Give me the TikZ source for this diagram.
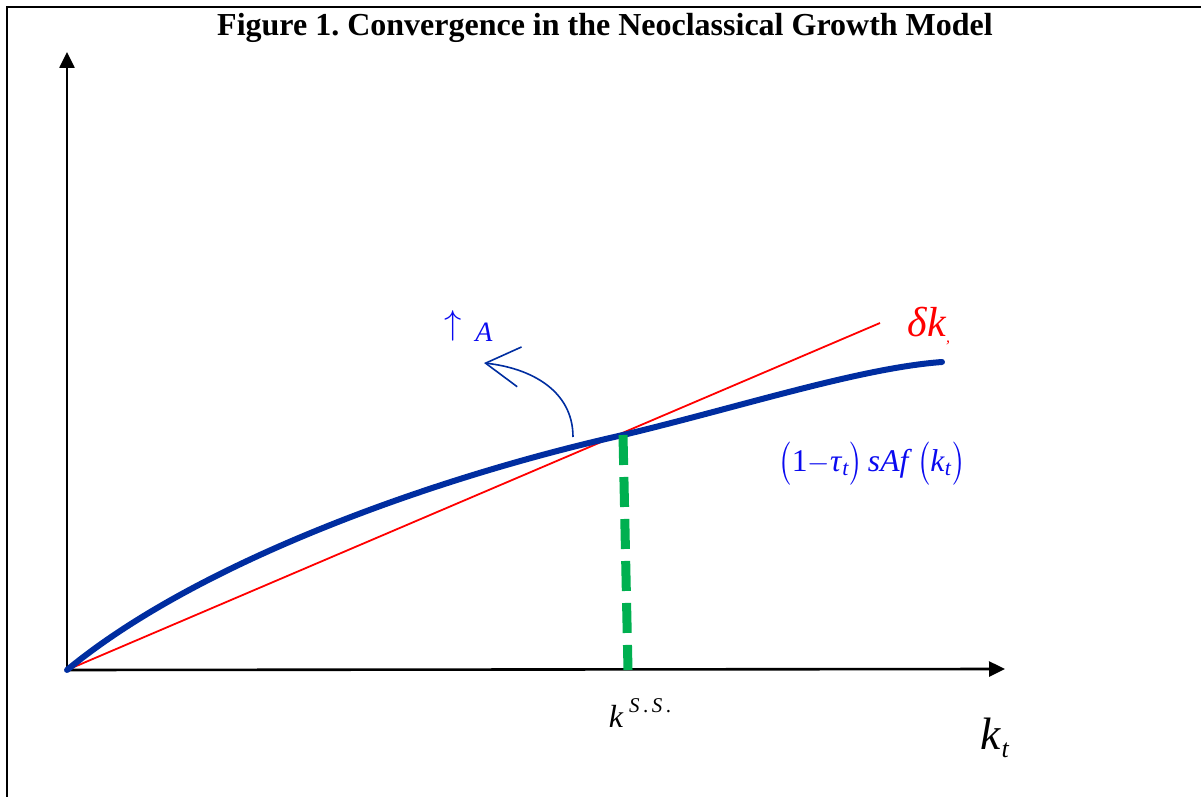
\documentclass[tikz,border=0pt]{standalone}
\usepackage{amsmath}
\usepackage{graphicx}
\usepackage{fontspec}
\setmainfont{Liberation Serif}
\usetikzlibrary{arrows.meta}
\definecolor{curveblue}{RGB}{0,45,160}
\definecolor{labelblue}{RGB}{10,10,240}
\definecolor{ssgreen}{RGB}{0,176,80}
\definecolor{linered}{RGB}{255,0,0}
\newcommand{\fsz}[1]{\fontsize{#1}{#1}\selectfont}
\newcommand{\tallL}{\raisebox{-0.12ex}{\scalebox{1}[1.25]{$\bigl($}}}
\newcommand{\tallR}{\raisebox{-0.12ex}{\scalebox{1}[1.25]{$\bigr)$}}}
\frenchspacing
\begin{document}
\begin{tikzpicture}[x=0.5pt,y=-0.5pt,
  frame/.style={line width=1.1pt,black},
  axis/.style={line width=1.3pt,black,-{Triangle[length=8pt,width=7.5pt]}},
  prodcurve/.style={line width=3pt,curveblue,line cap=round},
  deprline/.style={line width=0.9pt,linered},
  ssline/.style={line width=4.5pt,ssgreen,dash pattern=on 15pt off 6pt},
  shiftarrow/.style={line width=0.8pt,curveblue,-{Straight Barb[length=17pt,width=20pt,line width=0.8pt]}},
  lbl/.style={inner sep=0pt,outer sep=0pt}]
\useasboundingbox (0,0) rectangle (1201,797);
\draw[frame] (7,797) -- (7,7) -- (1201,7);

\node[lbl] (title) at (605,28) {\fsz{16}\bfseries Figure 1. Convergence in the Neoclassical Growth Model};

\coordinate (O) at (67,670);
\coordinate (ytop) at (67,52);
\coordinate (xend) at (1005,669);
\draw[axis] (O) -- (ytop);
\draw[axis] (O) -- (xend);

\coordinate (S) at (623,435);
\coordinate (Sfoot) at (628,670);
\coordinate (Rend) at (880,323);
\coordinate (Cend) at (942,362);

\draw[deprline] (O) -- (Rend);
\draw[prodcurve] (O) .. controls (200,560) and (440,476) .. (S)
  .. controls (740,407) and (860,368) .. (Cend);
\draw[ssline] (S) -- (Sfoot);

\coordinate (Astart) at (573,437);
\coordinate (Atip) at (484,363);
\draw[shiftarrow] (Astart) .. controls (573,390) and (530,368) .. (Atip);

\node[lbl,text=labelblue] (up) at (453,326) {\fsz{19}$\uparrow$};
\node[lbl,text=labelblue] (Alab) at (484,332) {\fsz{14}\itshape A};

\node[lbl,text=linered] (dk) at (929,326) {\fsz{21}\itshape δk\raisebox{-0.3ex}{\fsz{8},}};

\node[lbl,text=labelblue] (flab) at (872,464) {\fsz{15.8}\tallL 1$-$\textit{τ}$_{\text{\itshape t}}$\tallR\,\textit{sAf}\,\tallL\textit{k}$_{\text{\itshape t}}$\tallR};

\node[lbl] (kss) at (640,713) {\fsz{16}\textit{k}\,\raisebox{1.0ex}{\fsz{10.5}\textit{S}\,.\,\textit{S}\,.}};

\node[lbl] (kt) at (995,738) {\fsz{22.7}\textit{k}\raisebox{-0.35ex}{\fsz{13}\textit{t}}};
\end{tikzpicture}
\end{document}
